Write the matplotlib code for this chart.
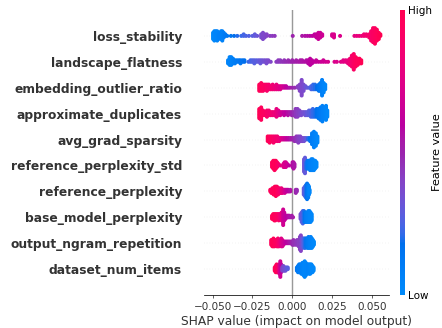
import numpy as np
import matplotlib
matplotlib.use("Agg")
import matplotlib.pyplot as plt
from matplotlib.colors import LinearSegmentedColormap

# ---------------- data: (SHAP value, number of samples, feature value 0..1) ----------------
feature_names = [
    "loss_stability", "landscape_flatness", "embedding_outlier_ratio",
    "approximate_duplicates", "avg_grad_sparsity", "reference_perplexity_std",
    "reference_perplexity", "base_model_perplexity", "output_ngram_repetition",
    "dataset_num_items",
]

loss_stability = [
    (-0.0497, 5, 0.02), (-0.0489, 7, 0.03), (-0.0480, 6, 0.05), (-0.0471, 7, 0.04),
    (-0.0463, 5, 0.06), (-0.0455, 3, 0.08), (-0.0447, 6, 0.07), (-0.0439, 7, 0.06),
    (-0.0430, 4, 0.09), (-0.0420, 2, 0.11), (-0.0408, 1, 0.13), (-0.0385, 1, 0.15),
    (-0.0365, 1, 0.18), (-0.0345, 1, 0.20), (-0.0320, 1, 0.22), (-0.0305, 2, 0.24),
    (-0.0290, 1, 0.25), (-0.0272, 1, 0.26), (-0.0250, 1, 0.28), (-0.0235, 2, 0.30),
    (-0.0220, 1, 0.32), (-0.0195, 3, 0.36), (-0.0184, 5, 0.38), (-0.0173, 3, 0.38),
    (-0.0160, 2, 0.40), (-0.0140, 1, 0.42), (-0.0125, 1, 0.43), (-0.0110, 1, 0.44),
    (0.0003, 1, 0.50), (0.0062, 1, 0.55), (0.0080, 1, 0.56), (0.0095, 1, 0.57),
    (0.0110, 1, 0.58), (0.0125, 1, 0.60), (0.0140, 2, 0.62), (0.0152, 3, 0.64),
    (0.0164, 5, 0.65), (0.0176, 4, 0.66), (0.0188, 2, 0.67), (0.0250, 2, 0.70),
    (0.0262, 3, 0.72), (0.0300, 1, 0.73), (0.0390, 1, 0.78), (0.0405, 1, 0.80),
    (0.0420, 1, 0.81), (0.0435, 1, 0.82), (0.0450, 2, 0.84), (0.0465, 2, 0.86),
    (0.0483, 3, 0.88), (0.0495, 7, 0.90), (0.0507, 10, 0.92), (0.0519, 11, 0.94),
    (0.0531, 8, 0.96), (0.0543, 5, 0.98), (0.0553, 2, 1.00),
]

landscape_flatness = [
    (-0.0403, 3, 0.05), (-0.0393, 6, 0.04), (-0.0383, 6, 0.06), (-0.0372, 4, 0.08),
    (-0.0360, 3, 0.10), (-0.0348, 2, 0.12), (-0.0336, 2, 0.13), (-0.0325, 3, 0.15),
    (-0.0312, 2, 0.16), (-0.0300, 2, 0.18), (-0.0275, 1, 0.22), (-0.0262, 2, 0.24),
    (-0.0250, 2, 0.26), (-0.0238, 3, 0.27), (-0.0225, 2, 0.28), (-0.0212, 2, 0.30),
    (-0.0200, 3, 0.31), (-0.0188, 2, 0.33), (-0.0175, 2, 0.34), (-0.0162, 3, 0.36),
    (-0.0150, 2, 0.37), (-0.0135, 1, 0.39), (-0.0100, 1, 0.42), (-0.0088, 2, 0.43),
    (-0.0075, 2, 0.44), (-0.0062, 1, 0.45), (-0.0050, 2, 0.46), (-0.0038, 1, 0.47),
    (-0.0025, 2, 0.48), (-0.0012, 1, 0.49), (0.0000, 2, 0.50), (0.0012, 1, 0.51),
    (0.0025, 2, 0.52), (0.0038, 1, 0.53), (0.0050, 2, 0.54), (0.0062, 2, 0.55),
    (0.0075, 1, 0.56), (0.0088, 2, 0.57), (0.0100, 3, 0.58), (0.0112, 5, 0.60),
    (0.0124, 3, 0.61), (0.0138, 1, 0.62), (0.0150, 2, 0.63), (0.0165, 1, 0.64),
    (0.0180, 1, 0.66), (0.0195, 2, 0.67), (0.0210, 1, 0.68), (0.0225, 1, 0.70),
    (0.0265, 1, 0.72), (0.0280, 1, 0.73), (0.0305, 1, 0.75), (0.0320, 2, 0.76),
    (0.0335, 2, 0.78), (0.0350, 3, 0.80), (0.0362, 5, 0.84), (0.0374, 8, 0.88),
    (0.0386, 11, 0.92), (0.0398, 7, 0.95), (0.0410, 5, 0.96), (0.0422, 4, 0.97),
    (0.0433, 3, 0.99),
]

embedding_outlier_ratio = [
    (-0.0207, 5, 0.97), (-0.0195, 6, 0.95), (-0.0183, 5, 0.93), (-0.0171, 4, 0.92),
    (-0.0159, 5, 0.90), (-0.0147, 4, 0.88), (-0.0135, 3, 0.86), (-0.0123, 4, 0.84),
    (-0.0111, 3, 0.82), (-0.0099, 4, 0.80), (-0.0087, 3, 0.77), (-0.0075, 3, 0.74),
    (-0.0063, 2, 0.70), (-0.0051, 2, 0.66), (-0.0039, 2, 0.62), (-0.0027, 1, 0.58),
    (-0.0015, 1, 0.55), (0.0000, 1, 0.50), (0.0015, 1, 0.48), (0.0035, 2, 0.42),
    (0.0047, 5, 0.40), (0.0059, 11, 0.38), (0.0071, 5, 0.36), (0.0083, 2, 0.33),
    (0.0095, 1, 0.30), (0.0107, 1, 0.28), (0.0119, 3, 0.25), (0.0131, 4, 0.22),
    (0.0143, 4, 0.20), (0.0155, 3, 0.18), (0.0167, 5, 0.15), (0.0177, 6, 0.12),
    (0.0187, 11, 0.08), (0.0197, 7, 0.05), (0.0207, 4, 0.03),
]

approximate_duplicates = [
    (-0.0207, 7, 0.98), (-0.0195, 9, 0.96), (-0.0183, 4, 0.94), (-0.0171, 3, 0.92),
    (-0.0159, 5, 0.90), (-0.0147, 4, 0.88), (-0.0135, 3, 0.86), (-0.0123, 3, 0.84),
    (-0.0111, 3, 0.82), (-0.0099, 6, 0.80), (-0.0087, 4, 0.76), (-0.0075, 3, 0.70),
    (-0.0063, 2, 0.66), (-0.0051, 3, 0.62), (-0.0039, 2, 0.60), (-0.0027, 3, 0.57),
    (-0.0015, 2, 0.54), (-0.0003, 3, 0.50), (0.0009, 3, 0.47), (0.0021, 6, 0.44),
    (0.0033, 6, 0.42), (0.0045, 4, 0.40), (0.0057, 3, 0.37), (0.0069, 2, 0.35),
    (0.0081, 3, 0.33), (0.0093, 3, 0.30), (0.0105, 4, 0.28), (0.0117, 5, 0.25),
    (0.0129, 6, 0.22), (0.0141, 5, 0.20), (0.0153, 6, 0.17), (0.0165, 7, 0.14),
    (0.0177, 9, 0.11), (0.0189, 11, 0.08), (0.0201, 8, 0.06), (0.0212, 10, 0.04),
    (0.0220, 5, 0.02),
]

avg_grad_sparsity = [
    (-0.0154, 4, 0.97), (-0.0142, 5, 0.95), (-0.0130, 4, 0.93), (-0.0118, 5, 0.90),
    (-0.0106, 4, 0.88), (-0.0094, 4, 0.86), (-0.0082, 3, 0.83), (-0.0070, 2, 0.75),
    (-0.0058, 2, 0.70), (-0.0046, 2, 0.66), (-0.0034, 2, 0.62), (-0.0022, 2, 0.58),
    (-0.0010, 2, 0.55), (0.0002, 2, 0.52), (0.0014, 3, 0.48), (0.0026, 4, 0.45),
    (0.0038, 5, 0.42), (0.0050, 4, 0.40), (0.0062, 3, 0.38), (0.0074, 3, 0.35),
    (0.0086, 2, 0.30), (0.0100, 2, 0.20), (0.0112, 3, 0.15), (0.0124, 8, 0.10),
    (0.0136, 11, 0.07), (0.0148, 9, 0.05), (0.0158, 5, 0.03),
]

reference_perplexity_std = [
    (-0.0127, 4, 0.95), (-0.0119, 6, 0.97), (-0.0111, 7, 0.96), (-0.0103, 6, 0.98),
    (-0.0095, 4, 0.94), (-0.0087, 2, 0.90), (-0.0075, 1, 0.80), (-0.0055, 3, 0.74),
    (-0.0048, 4, 0.72), (-0.0040, 4, 0.70), (-0.0032, 2, 0.68), (-0.0020, 1, 0.62),
    (0.0002, 4, 0.58), (0.0008, 5, 0.56), (0.0014, 3, 0.55), (0.0074, 9, 0.33),
    (0.0080, 11, 0.30), (0.0088, 5, 0.20), (0.0096, 6, 0.12), (0.0104, 6, 0.10),
    (0.0112, 7, 0.08), (0.0120, 8, 0.06), (0.0128, 8, 0.05), (0.0136, 7, 0.04),
    (0.0144, 6, 0.03), (0.0152, 4, 0.02),
]

reference_perplexity = [
    (-0.0138, 2, 0.95), (-0.0131, 3, 0.96), (-0.0124, 4, 0.94), (-0.0117, 5, 0.97),
    (-0.0110, 6, 0.96), (-0.0103, 7, 0.98), (-0.0096, 6, 0.95), (-0.0089, 5, 0.93),
    (-0.0082, 4, 0.90), (-0.0075, 3, 0.86), (-0.0068, 4, 0.82), (-0.0061, 3, 0.78),
    (-0.0054, 2, 0.74), (-0.0047, 3, 0.70), (-0.0040, 2, 0.66), (-0.0033, 2, 0.63),
    (-0.0026, 2, 0.60), (-0.0019, 1, 0.58), (-0.0012, 2, 0.56), (0.0022, 3, 0.50),
    (0.0029, 2, 0.48), (0.0072, 5, 0.30), (0.0079, 7, 0.25), (0.0086, 9, 0.20),
    (0.0093, 11, 0.15), (0.0100, 9, 0.10), (0.0105, 6, 0.05), (0.0109, 3, 0.03),
]

base_model_perplexity = [
    (-0.0127, 3, 0.97), (-0.0120, 4, 0.96), (-0.0113, 5, 0.98), (-0.0106, 5, 0.95),
    (-0.0099, 4, 0.94), (-0.0092, 4, 0.93), (-0.0085, 5, 0.90), (-0.0078, 4, 0.85),
    (-0.0067, 6, 0.78), (-0.0057, 11, 0.68), (-0.0050, 6, 0.65), (-0.0042, 3, 0.62),
    (-0.0035, 2, 0.60), (-0.0027, 2, 0.58), (-0.0019, 2, 0.56), (-0.0011, 1, 0.55),
    (-0.0003, 2, 0.53), (0.0005, 1, 0.52), (0.0052, 4, 0.35), (0.0059, 7, 0.30),
    (0.0066, 9, 0.25), (0.0073, 8, 0.20), (0.0080, 7, 0.15), (0.0087, 7, 0.10),
    (0.0094, 7, 0.08), (0.0101, 8, 0.06), (0.0108, 8, 0.05), (0.0115, 7, 0.04),
    (0.0122, 5, 0.03),
]

output_ngram_repetition = [
    (-0.0132, 4, 0.96), (-0.0125, 5, 0.97), (-0.0118, 6, 0.98), (-0.0111, 5, 0.95),
    (-0.0104, 4, 0.94), (-0.0097, 5, 0.93), (-0.0090, 6, 0.90), (-0.0083, 5, 0.86),
    (-0.0076, 4, 0.82), (-0.0069, 6, 0.76), (-0.0062, 5, 0.72), (-0.0055, 3, 0.68),
    (-0.0048, 2, 0.65), (-0.0041, 2, 0.62), (-0.0034, 2, 0.60), (-0.0027, 2, 0.58),
    (-0.0020, 2, 0.56), (-0.0013, 2, 0.54), (-0.0006, 2, 0.52), (0.0001, 3, 0.50),
    (0.0008, 4, 0.47), (0.0020, 3, 0.45), (0.0030, 4, 0.44), (0.0040, 5, 0.42),
    (0.0048, 9, 0.42), (0.0054, 11, 0.40), (0.0060, 7, 0.35), (0.0067, 6, 0.30),
    (0.0074, 7, 0.25), (0.0081, 7, 0.20), (0.0088, 6, 0.15), (0.0095, 7, 0.12),
    (0.0102, 8, 0.10), (0.0109, 7, 0.08), (0.0116, 8, 0.06), (0.0123, 7, 0.05),
    (0.0130, 5, 0.03), (0.0136, 3, 0.02),
]

dataset_num_items = [
    (-0.0110, 3, 0.95), (-0.0104, 5, 0.97), (-0.0098, 6, 0.96), (-0.0092, 5, 0.94),
    (-0.0086, 4, 0.90), (-0.0080, 7, 0.72), (-0.0075, 11, 0.68), (-0.0070, 6, 0.62),
    (-0.0063, 3, 0.40), (-0.0056, 4, 0.38), (-0.0049, 3, 0.35), (-0.0042, 3, 0.33),
    (-0.0035, 2, 0.30), (-0.0028, 2, 0.28), (0.0029, 3, 0.15), (0.0036, 5, 0.12),
    (0.0043, 6, 0.10), (0.0050, 6, 0.10), (0.0057, 7, 0.08), (0.0064, 8, 0.06),
    (0.0071, 9, 0.05), (0.0078, 11, 0.04), (0.0085, 9, 0.04), (0.0092, 7, 0.05),
    (0.0099, 6, 0.06), (0.0106, 7, 0.05), (0.0113, 7, 0.04), (0.0120, 6, 0.03),
    (0.0127, 5, 0.03), (0.0134, 3, 0.02),
]

rows = [loss_stability, landscape_flatness, embedding_outlier_ratio,
        approximate_duplicates, avg_grad_sparsity, reference_perplexity_std,
        reference_perplexity, base_model_perplexity, output_ngram_repetition,
        dataset_num_items]

x_ticks = [-0.050, -0.025, 0.000, 0.025, 0.050]
x_limits = (-0.0552, 0.0609)


# ---------------- SHAP "red_blue" colormap (LCH interpolation) ----------------
def lab2rgb(L, a, b):
    fy = (L + 16.0) / 116.0
    fx = fy + a / 500.0
    fz = fy - b / 200.0

    def finv(t):
        return np.where(t ** 3 > 0.008856, t ** 3, (t - 16.0 / 116.0) / 7.787)

    X = 0.95047 * finv(fx)
    Y = 1.00000 * finv(fy)
    Z = 1.08883 * finv(fz)
    M = np.array([[3.2404542, -1.5371385, -0.4985314],
                  [-0.9692660, 1.8760108, 0.0415560],
                  [0.0556434, -0.2040259, 1.0572252]])
    lin = M @ np.array([X, Y, Z])
    rgb = np.where(lin > 0.0031308, 1.055 * np.power(np.clip(lin, 0, None), 1 / 2.4) - 0.055, 12.92 * lin)
    return np.clip(rgb, 0, 1)


blue_lch = [54.0, 70.0, 4.6588]
red_lch = [54.0, 90.0, 0.35470565 + 2 * np.pi]
l_mid = 40.0
nsteps = 100
l_vals = list(np.linspace(blue_lch[0], l_mid, nsteps // 2)) + list(np.linspace(l_mid, red_lch[0], nsteps // 2))
c_vals = np.linspace(blue_lch[1], red_lch[1], nsteps)
h_vals = np.linspace(blue_lch[2], red_lch[2], nsteps)
cols = [lab2rgb(l, c * np.cos(h), c * np.sin(h)) for l, c, h in zip(l_vals, c_vals, h_vals)]
red_blue = LinearSegmentedColormap.from_list("red_blue", list(zip(np.linspace(0, 1, nsteps), cols)))

# ---------------- figure ----------------
DPI = 68
fig = plt.figure(figsize=(442 / DPI, 328 / DPI), dpi=DPI)
ax = fig.add_axes([204.3 / 442, 33 / 328, 185 / 442, 285 / 328])
axis_color = "#333333"
row_height = 0.4
n = len(rows)

for i, stacks in enumerate(rows):
    pos = n - 1 - i
    ax.axhline(y=pos, color="#cccccc", lw=0.5, dashes=(1, 5), zorder=-1)
    xs, ys, cs = [], [], []
    max_off = 0
    for val, cnt, fv in stacks:
        for layer in range(cnt):
            off = np.ceil(layer / 2) * ((layer % 2) * 2 - 1)
            xs.append(val)
            ys.append(off)
            cs.append(fv)
            max_off = max(max_off, off)
    ys = np.array(ys) * 0.9 * (row_height / (max_off + 1))
    ax.scatter(xs, pos + ys, c=cs, cmap=red_blue, vmin=0, vmax=1, s=18,
               linewidth=0, alpha=1, zorder=3)

ax.axvline(x=0, color="#999999", zorder=-1)
ax.set_xlim(*x_limits)
ax.set_ylim(-1, n)
ax.set_xticks(x_ticks)
ax.set_xticklabels([f"{t:.3f}".replace("-", "\u2212") for t in x_ticks])
ax.set_yticks(range(n))
ax.set_yticklabels(list(reversed(feature_names)), fontsize=13, fontweight="bold")
ax.tick_params(color=axis_color, labelcolor=axis_color)
ax.tick_params("y", length=0, pad=23.5)
ax.tick_params("x", labelsize=11)
for s in ["top", "right", "left"]:
    ax.spines[s].set_visible(False)
ax.xaxis.set_ticks_position("bottom")
ax.set_xlabel("SHAP value (impact on model output)", fontsize=13, color=axis_color)

# colorbar
cax = fig.add_axes([400 / 442, 33 / 328, 5 / 442, 285 / 328])
sm = matplotlib.cm.ScalarMappable(cmap=red_blue)
sm.set_array([0, 1])
cb = fig.colorbar(sm, cax=cax, ticks=[0, 1])
cb.set_ticklabels(["Low", "High"])
cb.set_label("Feature value", size=12, labelpad=0)
cb.ax.tick_params(labelsize=11, length=0)
cb.outline.set_visible(False)

fig.savefig("out.png", dpi=DPI)
